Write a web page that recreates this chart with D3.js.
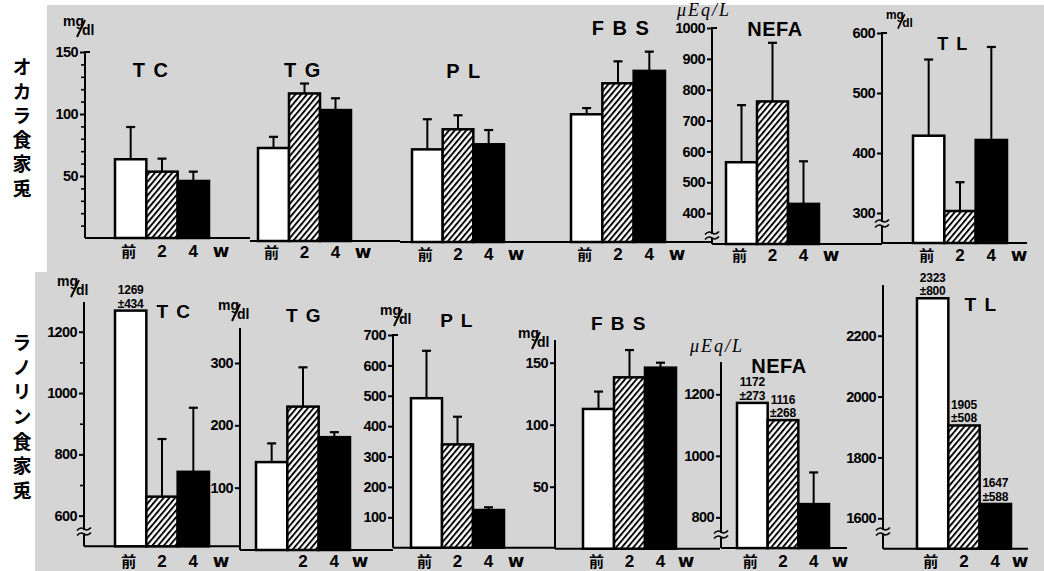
<!DOCTYPE html>
<html><head><meta charset="utf-8">
<script src="https://cdn.jsdelivr.net/npm/d3@7"></script>
<style>body{margin:0;background:#fff}svg{display:block}</style>
</head><body>
<svg id="c" width="1044" height="571"></svg>
<script>
// ---------------- data ----------------
const groups = ["前", "2", "4"];
const weekLabel = "w";
const rowLabels = ["オカラ食家兎", "ラノリン食家兎"];
const titles = ["T C", "T G", "P L", "F B S", "NEFA", "T L"];

// オカラ食 (okara diet) — mean and SD
const okaraTC = [63.5, 53.5, 46],     okaraTCsd = [26, 10.5, 7.5];
const okaraTG = [75, 119, 105.6],     okaraTGsd = [9, 8, 9.5];
const okaraPL = [74.7, 90.9, 78.8],   okaraPLsd = [24.3, 11.3, 11.5];
const okaraFBS = [103, 128, 138],     okaraFBSsd = [5, 17.7, 15.5];
const okaraNEFA = [565, 762, 430],    okaraNEFAsd = [185, 190, 138];
const okaraTL = [428.8, 303.3, 421.7], okaraTLsd = [127, 48, 155];

// ラノリン食 (lanolin diet)
const lanoTC = [1269, 662, 743],      lanoTCsd = [434, 188, 209];
const lanoTG = [141, 230, 181],       lanoTGsd = [30, 63, 8];
const lanoPL = [492, 340, 124],       lanoPLsd = [156, 91, 9];
const lanoFBS = [112.7, 138.2, 146],  lanoFBSsd = [14, 22, 4];
const lanoNEFA = [1172, 1116, 843],   lanoNEFAsd = [273, 268, 103];
const lanoTL = [2323, 1905, 1647],    lanoTLsd = [800, 508, 588];

// tick values
const tickOkaraTC = [50, 100, 150];
const minorOkaraTC = [10, 20, 30, 40, 60, 70, 80, 90, 110, 120, 130, 140];
const tickOkaraNEFA = [400, 500, 600, 700, 800, 900, 1000];
const tickOkaraTL = [300, 400, 500, 600];
const tickLanoTC = [600, 800, 1000, 1200];
const minorLanoTC = [700, 900, 1100];
const tickLanoTG = [100, 200, 300];
const tickLanoPL = [100, 200, 300, 400, 500, 600, 700];
const tickLanoFBS = [50, 100, 150];
const tickLanoNEFA = [800, 1000, 1200];
const tickLanoTL = [1600, 1800, 2000, 2200];

// ---------------- layout ----------------
const NUM = '"Liberation Sans",Arial,sans-serif';
const SANS = '"Liberation Sans",Arial,sans-serif';
const CJK = '"Noto Sans CJK JP","Noto Sans CJK SC",sans-serif';

const panels = [
 {vals: okaraTC, sd: okaraTCsd, ann: [0,0,0], title: titles[0], domain: [0,150], range: [238,52],
  axis: {x: 85, top: 52, cap: true, ticks: tickOkaraTC, minor: minorOkaraTC}, bars: [115,209],
  tpos: [151,77,20], wx: 221, labY: 257, unit: {t: "mg", x: 63, y: 35}, base: [85,250]},
 {vals: okaraTG, sd: okaraTGsd, ann: [0,0,0], title: titles[1], domain: [0,150], range: [241,55],
  axis: null, bars: [258,351], tpos: [303,77,20], wx: 363, labY: 258, base: [250,400]},
 {vals: okaraPL, sd: okaraPLsd, ann: [0,0,0], title: titles[2], domain: [0,150], range: [242,56],
  axis: null, bars: [412,504], tpos: [464,78,20], wx: 516, labY: 260, base: [400,560]},
 {vals: okaraFBS, sd: okaraFBSsd, ann: [0,0,0], title: titles[3], domain: [0,150], range: [242,56],
  axis: null, bars: [571,665], tpos: [621,35,20], wx: 677, labY: 260, base: [560,712]},
 {vals: okaraNEFA, sd: okaraNEFAsd, ann: [0,0,0], title: titles[4], domain: [300,1000], range: [244,28],
  axis: {x: 712, top: 28, cap: true, ticks: tickOkaraNEFA, brk: 236}, bars: [726,819],
  tpos: [775,36,20], wx: 831, labY: 261, unit: {t: "eq", x: 677, y: 15.5}, base: [712,882]},
 {vals: okaraTL, sd: okaraTLsd, ann: [0,0,0], title: titles[5], domain: [250,600], range: [243,33],
  axis: {x: 882, top: 33, cap: true, ticks: tickOkaraTL, brk: 224}, bars: [913,1007],
  tpos: [953,50,18], wx: 1019, labY: 261, unit: {t: "mg", x: 886, y: 27, s: 0.85}, base: [882,1027]},

 {vals: lanoTC, sd: lanoTCsd, ann: [1,0,0], title: titles[0], domain: [500,1300], range: [546.3,301.1],
  axis: {x: 84, top: 302, cap: false, ticks: tickLanoTC, minor: minorLanoTC, brk: 532}, bars: [115,209],
  tpos: [174,318,19], wx: 221, labY: 567, unit: {t: "mg", x: 57, y: 295}, base: [84,240]},
 {vals: lanoTG, sd: lanoTGsd, ann: [0,0,0], title: titles[1], domain: [0,350], range: [550,331.8],
  axis: {x: 240, top: 328, cap: false, ticks: tickLanoTG}, bars: [256,350], noFirst: true,
  tpos: [304,322,19], wx: 360, labY: 567, unit: {t: "mg", x: 218, y: 319}, base: [240,393]},
 {vals: lanoPL, sd: lanoPLsd, ann: [0,0,0], title: titles[2], domain: [0,700], range: [547.7,335],
  axis: {x: 393, top: 335, cap: true, ticks: tickLanoPL}, bars: [411,504],
  tpos: [457,327,19], wx: 516, labY: 567, unit: {t: "mg", x: 380, y: 324}, base: [393,555]},
 {vals: lanoFBS, sd: lanoFBSsd, ann: [0,0,0], title: titles[3], domain: [0,150], range: [548.7,362.7],
  axis: {x: 555, top: 340, cap: false, ticks: tickLanoFBS}, bars: [583,676],
  tpos: [619,330,19], wx: 686, labY: 567, unit: {t: "mg", x: 518, y: 347}, base: [555,720]},
 {vals: lanoNEFA, sd: lanoNEFAsd, ann: [1,1,0], title: titles[4], domain: [700,1200], range: [548.1,394.3],
  axis: {x: 721, top: 362, cap: false, ticks: tickLanoNEFA, brk: 535}, bars: [737,829],
  tpos: [779,373,20], wx: 840, labY: 567, unit: {t: "eq", x: 690, y: 352}, base: [721,847]},
 {vals: lanoTL, sd: lanoTLsd, ann: [1,1,1], title: titles[5], domain: [1500,2200], range: [548.7,335.7],
  axis: {x: 883, top: 285, cap: false, ticks: tickLanoTL, brk: 532}, bars: [917,1011],
  tpos: [981,311,19], wx: 1020, labY: 567, base: [883,1028]}
];

const svg = d3.select("#c");
const BG = "#d5d5d5";

// hatch pattern
const defs = svg.append("defs");
const pat = defs.append("pattern").attr("id", "hatch").attr("patternUnits", "userSpaceOnUse")
  .attr("width", 4.4).attr("height", 10).attr("patternTransform", "rotate(40)");
pat.append("rect").attr("width", 4.4).attr("height", 10).attr("fill", "#fff");
pat.append("line").attr("x1", 1).attr("x2", 1).attr("y1", 0).attr("y2", 10)
  .attr("stroke", "#000").attr("stroke-width", 1.9);

// scanned page background
svg.append("path").attr("d", "M47,5H1044V571H35V272H47Z").attr("fill", BG);

// row labels (vertical, one text each)
const rowLabelPos = [{x: 22, top: 57.5, gap: 5.3}, {x: 22, top: 333.5, gap: 5.6}];
rowLabels.forEach((s, r) => {
  svg.append("text").attr("x", rowLabelPos[r].x).attr("y", rowLabelPos[r].top)
    .style("writing-mode", "vertical-rl").style("glyph-orientation-vertical", "0")
    .style("font-family", CJK).style("font-weight", 700).style("font-size", "19px")
    .style("letter-spacing", rowLabelPos[r].gap + "px").text(s);
});

function mgUnit(g, u) {
  const s = u.s || 1;
  const gg = g.append("g").attr("transform", `translate(${u.x},${u.y}) scale(${s})`);
  gg.append("text").attr("x", 0).attr("y", -9).style("font-family", SANS).style("font-weight", 700)
    .style("font-size", "14px").text("mg");
  gg.append("line").attr("x1", 14).attr("y1", 2).attr("x2", 22).attr("y2", -15)
    .attr("stroke", "#000").attr("stroke-width", 2);
  gg.append("text").attr("x", 19).attr("y", 0).style("font-family", SANS).style("font-weight", 700)
    .style("font-size", "14px").text("dl");
}
function eqUnit(g, u) {
  g.append("text").attr("x", u.x).attr("y", u.y).style("font-family", '"Liberation Serif","DejaVu Serif",serif')
    .style("font-style", "italic").style("font-size", "18px").style("letter-spacing", "2px").text("μEq/L");
}

panels.forEach(p => {
  const g = svg.append("g");
  const y = d3.scaleLinear().domain(p.domain).range(p.range);
  const x = d3.scaleBand().domain(groups).range(p.bars).padding(0);
  const y0 = p.range[0];

  // baseline
  g.append("line").attr("x1", p.base[0]).attr("x2", p.base[1]).attr("y1", y0).attr("y2", y0)
    .attr("stroke", "#000").attr("stroke-width", 2);

  // axis
  if (p.axis) {
    const a = p.axis;
    const ax = g.append("g").attr("transform", `translate(${a.x},0)`)
      .call(d3.axisLeft(y).tickValues(a.ticks).tickFormat(d3.format("d")).tickSize(5).tickPadding(2).tickSizeOuter(0));
    ax.select(".domain").remove();
    ax.selectAll(".tick line").attr("stroke", "#000").attr("stroke-width", 2);
    ax.selectAll(".tick text").style("font-family", NUM).style("font-weight", 700)
      .style("font-size", "14.5px").style("letter-spacing", "-0.6px").attr("fill", "#000");
    if (a.minor) {
      const mx = g.append("g").attr("transform", `translate(${a.x},0)`)
        .call(d3.axisLeft(y).tickValues(a.minor).tickSize(4).tickFormat(""));
      mx.select(".domain").remove();
      mx.selectAll(".tick line").attr("stroke", "#000").attr("stroke-width", 1.6);
    }
    g.append("line").attr("x1", a.x).attr("x2", a.x).attr("y1", a.top).attr("y2", y0)
      .attr("stroke", "#000").attr("stroke-width", 2);
    if (a.cap) g.append("line").attr("x1", a.x - 1).attr("x2", a.x + 5).attr("y1", a.top).attr("y2", a.top)
      .attr("stroke", "#000").attr("stroke-width", 2);
    if (a.brk) {
      g.append("rect").attr("x", a.x - 3).attr("y", a.brk - 2).attr("width", 6).attr("height", 4).attr("fill", BG);
      [-2.5, 2.5].forEach(d => {
        g.append("path").attr("d", `M${a.x - 7},${a.brk + d + 1} q3.5,-4 7,-1.5 t7,-1.5`)
          .attr("fill", "none").attr("stroke", "#000").attr("stroke-width", 1.6);
      });
    }
  }

  // bars
  const fills = ["#fff", "url(#hatch)", "#000"];
  groups.forEach((k, i) => {
    const v = p.vals[i];
    g.append("rect").attr("x", x(k)).attr("y", y(v)).attr("width", x.bandwidth()).attr("height", y0 - y(v))
      .attr("fill", fills[i]).attr("stroke", "#000").attr("stroke-width", 2.5);
  });
  // error bars / annotations
  groups.forEach((k, i) => {
    const v = p.vals[i], s = p.sd[i];
    const cx = x(k) + x.bandwidth() / 2;
    if (p.ann[i]) {
      const t = g.append("text").attr("x", cx).attr("text-anchor", "middle")
        .style("font-family", NUM).style("font-weight", 700).style("font-size", "12px")
        .style("letter-spacing", "-0.2px");
      t.append("tspan").attr("x", cx).attr("y", y(v) - 16.5).text(String(v));
      t.append("tspan").attr("x", cx).attr("y", y(v) - 3).text("±" + s);
    } else {
      g.append("line").attr("x1", cx).attr("x2", cx).attr("y1", y(v)).attr("y2", y(v + s))
        .attr("stroke", "#000").attr("stroke-width", 2);
      g.append("line").attr("x1", cx - 4.5).attr("x2", cx + 4.5).attr("y1", y(v + s)).attr("y2", y(v + s))
        .attr("stroke", "#000").attr("stroke-width", 2.2);
    }
  });

  // x labels
  groups.forEach((k, i) => {
    if (p.noFirst && i === 0) return;
    const cx = x(k) + x.bandwidth() / 2;
    g.append("text").attr("x", cx - (i === 0 ? 2 : 0)).attr("y", p.labY).attr("text-anchor", "middle")
      .style("font-family", i === 0 ? CJK : NUM).style("font-weight", 700)
      .style("font-size", i === 0 ? "15px" : "17px").text(k);
  });
  g.append("text").attr("x", p.wx).attr("y", p.labY).attr("text-anchor", "middle")
    .style("font-family", '"DejaVu Sans",sans-serif').style("font-weight", 700).style("font-size", "18px").text(weekLabel);

  // title
  g.append("text").attr("x", p.tpos[0]).attr("y", p.tpos[1]).attr("text-anchor", "middle")
    .style("font-family", SANS).style("font-weight", 700).style("font-size", p.tpos[2] + "px")
    .style("letter-spacing", p.title === "NEFA" ? "0.5px" : "1.5px").style("white-space", "pre").text(p.title);

  // unit
  if (p.unit) (p.unit.t === "mg" ? mgUnit : eqUnit)(g, p.unit);
});
</script>
</body></html>
